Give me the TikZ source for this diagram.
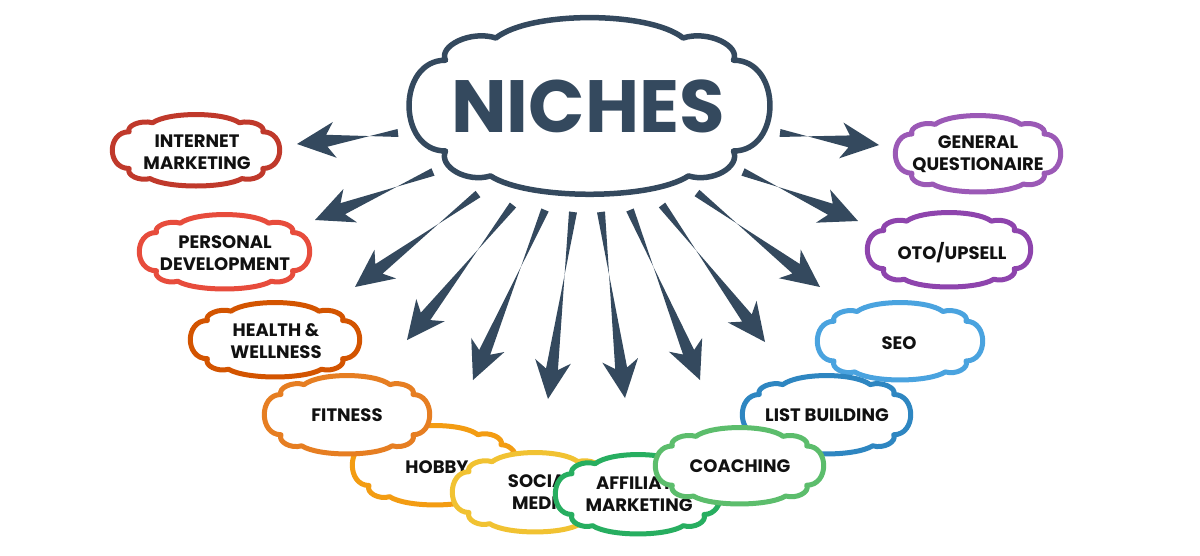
\documentclass[tikz,border=0pt]{standalone}
\usepackage{fontspec}
\setmainfont{Poppins}
\usetikzlibrary{calc}
\definecolor{slate}{HTML}{34495E}
\definecolor{cInternet}{HTML}{C0392B}
\definecolor{cPersonal}{HTML}{E74C3C}
\definecolor{cHealth}{HTML}{D35400}
\definecolor{cFitness}{HTML}{E67E22}
\definecolor{cHobby}{HTML}{F39C12}
\definecolor{cSocial}{HTML}{F1C232}
\definecolor{cAffiliate}{HTML}{27AE60}
\definecolor{cCoaching}{HTML}{5CBD6C}
\definecolor{cList}{HTML}{2E86C1}
\definecolor{cSeo}{HTML}{4AA3DF}
\definecolor{cOto}{HTML}{8E44AD}
\definecolor{cGeneral}{HTML}{9B59B6}
\definecolor{ink}{HTML}{111111}
\tikzset{
  lbl/.style={font=\fontsize{18}{22.5}\selectfont\bfseries, text=ink, align=center, inner sep=0pt},
  cloudline/.style={line width=5pt, line join=round, fill=white},
}
\newcommand{\cloudshape}[6][5pt]{%
  \begin{scope}[shift={(#2,#3)}, xscale=#4, yscale=#5]
    \filldraw[cloudline, line width=#1, draw=#6]
      (-0.55,0.78) .. controls (-0.34,1.055) and (0.34,1.055) .. (0.55,0.78)
      .. controls (0.68,0.86) and (0.84,0.68) .. (0.80,0.5)
      .. controls (1.07,0.5) and (1.07,-0.52) .. (0.80,-0.52)
      .. controls (0.84,-0.68) and (0.66,-0.86) .. (0.52,-0.77)
      .. controls (0.33,-1.075) and (-0.33,-1.075) .. (-0.52,-0.77)
      .. controls (-0.66,-0.86) and (-0.84,-0.68) .. (-0.80,-0.52)
      .. controls (-1.07,-0.52) and (-1.07,0.5) .. (-0.80,0.5)
      .. controls (-0.84,0.68) and (-0.68,0.86) .. (-0.55,0.78) -- cycle;
  \end{scope}}
\newcommand{\tarrow}[2]{%
  \fill[slate] (#2)
    -- ($(#2)!38pt!(#1)!18pt!90:(#2)$)
    -- ($(#2)!30pt!(#1)!6pt!90:(#2)$)
    -- ($(#1)!4pt!-90:(#2)$)
    -- ($(#1)!4pt!90:(#2)$)
    -- ($(#2)!30pt!(#1)!6pt!-90:(#2)$)
    -- ($(#2)!38pt!(#1)!18pt!-90:(#2)$)
    -- cycle;}
\begin{document}
\begin{tikzpicture}[x=1pt,y=-1pt]
\useasboundingbox[fill=white] (0,0) rectangle (1200,556);

% central cloud
\cloudshape[5.5pt]{589.5}{106.5}{180}{89}{slate}
\node[font=\fontsize{74}{74}\selectfont\bfseries, text=slate, inner sep=0pt] (niches) at (588,106) {NICHES};

% arrow end points
\coordinate (t1) at (398,133);  \coordinate (h1) at (297,144);
\coordinate (t2) at (433,172);  \coordinate (h2) at (315,220);
\coordinate (t3) at (478,194);  \coordinate (h3) at (355,287);
\coordinate (t4) at (513,205);  \coordinate (h4) at (407,340);
\coordinate (t5) at (545,210);  \coordinate (h5) at (473,380);
\coordinate (t6) at (573,212);  \coordinate (h6) at (548,399);
\coordinate (t7) at (601,212);  \coordinate (h7) at (625,398);
\coordinate (t8) at (630,210);  \coordinate (h8) at (700,380);
\coordinate (t9) at (662,205);  \coordinate (h9) at (765,342);
\coordinate (t10) at (697,193); \coordinate (h10) at (820,287);
\coordinate (t11) at (743,172); \coordinate (h11) at (858,221);
\coordinate (t12) at (780,133); \coordinate (h12) at (879,145);
\foreach \i in {1,...,12} {\tarrow{t\i}{h\i}}

% clouds, back to front
\cloudshape{435}{465.5}{82.5}{40}{cHobby}
\node[lbl] (hobby) at (437,467) {HOBBY};
\cloudshape{347}{415}{82.5}{39.5}{cFitness}
\node[lbl] (fitness) at (347,415) {FITNESS};
\cloudshape{275}{340}{84.5}{37.5}{cHealth}
\node[lbl] (health) at (276,341) {HEALTH \&\\WELLNESS};
\cloudshape{224.5}{252}{85}{37.5}{cPersonal}
\node[lbl] (personal) at (225,253) {PERSONAL\\DEVELOPMENT};
\cloudshape{196}{150.5}{83.5}{36}{cInternet}
\node[lbl] (internet) at (197,152) {INTERNET\\MARKETING};
\cloudshape{535}{492.5}{82.5}{40}{cSocial}
\node[lbl] (social) at (541,492) {SOCIAL\\MEDIA};
\cloudshape{638}{494.5}{82.5}{40}{cAffiliate}
\node[lbl] (affiliate) at (639,494) {AFFILIATE\\MARKETING};
\cloudshape{900}{341.5}{82.5}{39}{cSeo}
\node[lbl] (seo) at (899,343) {SEO};
\cloudshape{826.5}{415}{84}{39.5}{cList}
\node[lbl] (list) at (827,415) {LIST BUILDING};
\cloudshape{739.5}{466}{84}{38.5}{cCoaching}
\node[lbl] (coaching) at (740,466) {COACHING};
\cloudshape{949}{250}{81.5}{37.5}{cOto}
\node[lbl] (oto) at (952,253) {OTO/UPSELL};
\cloudshape{978}{154}{82.5}{38.5}{cGeneral}
\node[lbl] (general) at (978,154) {GENERAL\\QUESTIONAIRE};
\end{tikzpicture}
\end{document}
